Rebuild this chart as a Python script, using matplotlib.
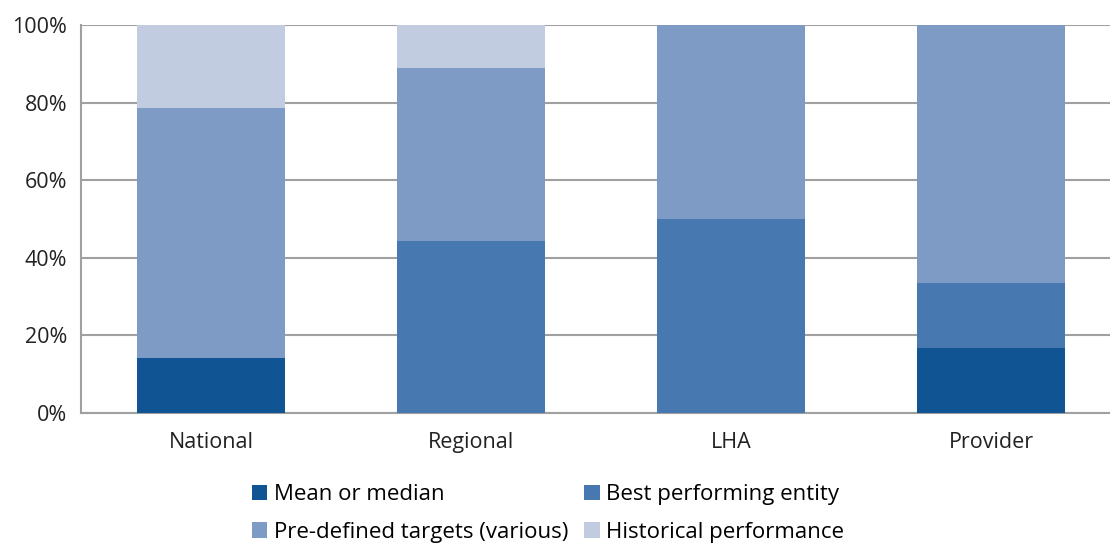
import numpy as np
import matplotlib.pyplot as plt
from matplotlib.ticker import PercentFormatter

plt.rcParams['font.family'] = ['Open Sans', 'DejaVu Sans']

categories = ['National', 'Regional', 'LHA', 'Provider']
mean_median = [14.3, 0.0, 0.0, 16.7]
best_entity = [0.0, 44.4, 50.0, 16.7]
predefined = [64.3, 44.5, 50.0, 66.6]
historical = [21.4, 11.1, 0.0, 0.0]

series = [
    ('Mean or median', mean_median, '#105493'),
    ('Best performing entity', best_entity, '#4878b0'),
    ('Pre-defined targets (various)', predefined, '#7e9bc6'),
    ('Historical performance', historical, '#c1cce1'),
]

fig = plt.figure(figsize=(11.1, 5.45), dpi=100)
ax = fig.add_axes([81 / 1110, 132 / 545, 1040 / 1110, 388 / 545])

x = np.arange(len(categories))
bottom = np.zeros(len(categories))
handles = []
for name, vals, col in series:
    b = ax.bar(x, vals, width=0.573, bottom=bottom, color=col, label=name, zorder=3)
    handles.append(b)
    bottom += np.array(vals)

ax.set_xlim(-0.5, 3.5)
ax.set_ylim(0, 100)
ax.set_yticks(np.arange(0, 101, 20))
ax.yaxis.set_major_formatter(PercentFormatter(decimals=0))
ax.set_xticks(x)
ax.set_xticklabels(categories)
ax.tick_params(axis='both', length=0, labelsize=15.5, colors='#222222')
ax.tick_params(axis='x', pad=14)
ax.tick_params(axis='y', pad=10)
ax.grid(axis='y', color='#a0a0a0', linewidth=1.5, zorder=0)
for s in ['top', 'right']:
    ax.spines[s].set_visible(False)
for s in ['left', 'bottom']:
    ax.spines[s].set_color('#a0a0a0')
    ax.spines[s].set_linewidth(1.5)

# row-major order in the legend
order = [0, 2, 1, 3]
fig.legend([handles[i] for i in order], [series[i][0] for i in order],
           loc='upper center', bbox_to_anchor=(548 / 1110, 1 - 473 / 545), ncol=2,
           frameon=False, fontsize=16, handlelength=0.7, handleheight=0.7,
           handletextpad=0.3, columnspacing=0.7, labelspacing=0.75, borderpad=0)

fig.savefig('out.png', dpi=100)
